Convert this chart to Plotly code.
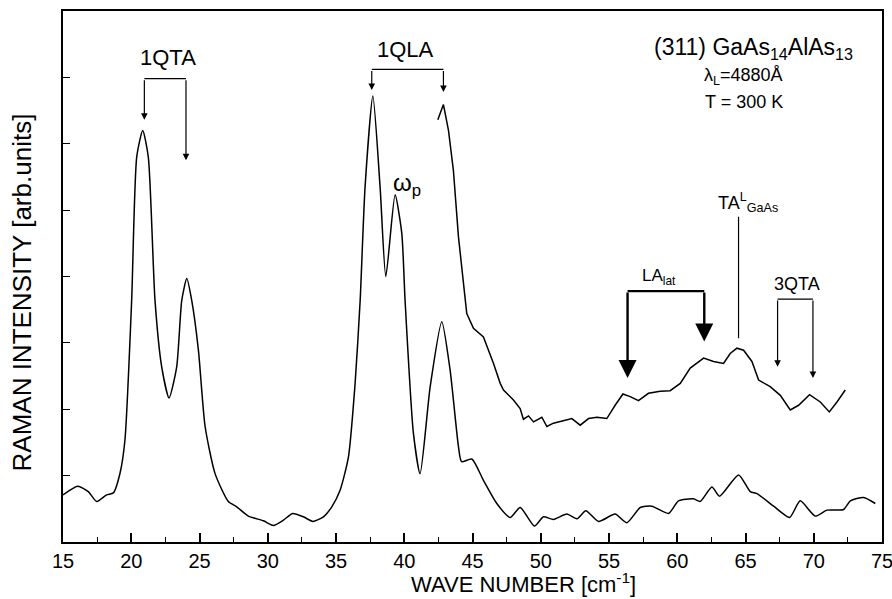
import plotly.graph_objects as go

# Lower spectrum
lower_x = [15.0, 16.08, 16.85, 17.47, 18.2, 18.69, 19.18, 19.54, 20.03, 20.4, 20.84, 21.25, 21.74,
           22.23, 22.77, 23.33, 23.7, 24.07, 24.43, 24.92, 25.41, 26.14, 27.11, 27.73, 28.58, 29.68,
           30.41, 31.15, 31.83, 32.61, 33.3, 34.08, 34.69, 35.3, 35.91, 36.4, 36.77, 37.13, 37.7,
           38.23, 38.65, 39.33, 39.82, 40.06, 40.67, 41.16, 41.9, 42.75, 43.36, 43.97, 44.2, 44.95,
           45.8, 46.78, 47.76, 48.49, 49.54, 50.2, 50.93, 51.91, 52.65, 53.3, 54.23, 55.45, 56.31,
           57.29, 58.14, 59.36, 60.09, 61.19, 61.68, 62.54, 63.1, 64.49, 65.35, 65.84, 67.06, 68.23,
           69.01, 70.11, 70.97, 72.19, 72.68, 73.65, 74.51]
lower_y = [0.71, 0.84, 0.76, 0.61, 0.71, 0.74, 1.04, 1.54, 3.64, 5.8, 6.2, 5.8, 3.64,
           2.64, 2.17, 2.64, 3.64, 3.97, 3.64, 2.89, 1.74, 1.03, 0.61, 0.53, 0.39, 0.32,
           0.25, 0.33, 0.43, 0.38, 0.31, 0.38, 0.53, 0.78, 1.28, 2.39, 3.64, 5.35, 6.72,
           5.35, 4.0, 5.23, 4.65, 3.64, 1.64, 1.03, 2.34, 3.32, 2.59, 1.44, 1.21, 1.25,
           0.93, 0.58, 0.37, 0.52, 0.24, 0.38, 0.34, 0.42, 0.35, 0.47, 0.31, 0.42, 0.29,
           0.52, 0.54, 0.43, 0.62, 0.65, 0.61, 0.83, 0.69, 1.01, 0.76, 0.73, 0.54, 0.37,
           0.62, 0.39, 0.48, 0.49, 0.62, 0.67, 0.58]

# Upper spectrum
upper_x = [42.46, 42.87, 43.24, 43.6, 43.97, 44.34, 44.58, 45.07, 45.8, 46.54, 47.03, 47.27, 48.0,
           48.49, 48.73, 49.1, 49.47, 50.08, 50.45, 50.93, 51.67, 52.28, 52.89, 53.5, 54.11, 54.84,
           55.45, 56.02, 56.55, 57.16, 57.89, 58.75, 59.48, 60.22, 60.95, 61.56, 61.93, 62.66,
           63.39, 63.88, 64.37, 64.86, 65.47, 65.96, 66.81, 67.55, 68.28, 68.89, 69.69, 70.48,
           71.14, 71.7, 72.31]
upper_y = [6.36, 6.59, 6.2, 5.6, 4.6, 3.85, 3.44, 3.22, 3.09, 2.69, 2.39, 2.29, 2.14,
           2.01, 1.85, 1.9, 1.81, 1.88, 1.74, 1.79, 1.83, 1.86, 1.76, 1.86, 1.88, 1.86,
           2.06, 2.23, 2.19, 2.13, 2.24, 2.27, 2.28, 2.39, 2.62, 2.72, 2.77, 2.72,
           2.69, 2.84, 2.92, 2.89, 2.72, 2.44, 2.34, 2.21, 1.99, 2.06, 2.22, 2.11,
           1.96, 2.11, 2.29]

x_ticks = [15, 20, 25, 30, 35, 40, 45, 50, 55, 60, 65, 70, 75]

FONT = "Liberation Sans, Arial, sans-serif"

fig = go.Figure()
fig.add_trace(go.Scatter(x=lower_x, y=lower_y, mode="lines",
                         line=dict(color="black", width=1.5, shape="spline", smoothing=0.6),
                         showlegend=False, hoverinfo="skip"))
fig.add_trace(go.Scatter(x=upper_x, y=upper_y, mode="lines",
                         line=dict(color="black", width=1.5),
                         showlegend=False, hoverinfo="skip"))

# Brackets: (x_left, x_right, bracket_y, tip_left, tip_right, arrow style)
brackets = [
    (20.96, 24.01, 6.98, 6.36, 5.75, "thin"),
    (37.62, 42.87, 7.12, 6.81, 6.78, "thin"),
    (56.36, 61.98, 3.78, 2.47, 3.02, "thick"),
    (67.35, 69.94, 3.66, 2.64, 2.47, "thin"),
]
for xl, xr, by, tl, tr, style in brackets:
    w = 2.4 if style == "thick" else 1.2
    fig.add_shape(type="line", x0=xl, x1=xr, y0=by, y1=by, xref="x", yref="y",
                  line=dict(color="black", width=w))
    for xx, tip in ((xl, tl), (xr, tr)):
        fig.add_annotation(x=xx, y=tip, ax=xx, ay=by, xref="x", yref="y", axref="x", ayref="y",
                           text="", showarrow=True, arrowhead=2,
                           arrowsize=(1.5 if style == "thick" else 1.1),
                           arrowwidth=w, arrowcolor="black")

# TA line
fig.add_shape(type="line", x0=64.49, x1=64.49, y0=4.9, y1=3.07, xref="x", yref="y",
              line=dict(color="black", width=1.2))

labels = [
    (22.66, 7.30, "1QTA", 22),
    (40.06, 7.42, "1QLA", 22),
    (40.2, 5.38, "ω<sub>p</sub>", 24),
    (58.68, 4.0, "LA<sub>lat</sub>", 17),
    (68.77, 3.89, "3QTA", 18),
    (65.16, 5.12, "TA<sup>L</sup><sub>GaAs</sub>", 18),
    (65.6, 7.43, "(311) GaAs<sub>14</sub>AlAs<sub>13</sub>", 23),
    (64.83, 7.02, "λ<sub>L</sub>=4880Å", 18),
    (64.86, 6.63, "T = 300 K", 18),
]
for lx, ly, txt, fs in labels:
    fig.add_annotation(x=lx, y=ly, text=txt, showarrow=False, xref="x", yref="y",
                       xanchor="center", yanchor="middle",
                       font=dict(family=FONT, size=fs, color="black"))

# Axis titles
fig.add_annotation(x=0.5617, y=-0.078, xref="paper", yref="paper", showarrow=False,
                   text="WAVE NUMBER [cm<sup>-1</sup>]", xanchor="center", yanchor="middle",
                   font=dict(family=FONT, size=22, color="black"))
fig.add_annotation(x=-0.05, y=0.47, xref="paper", yref="paper", showarrow=False,
                   text="RAMAN INTENSITY [arb.units]", textangle=-90,
                   xanchor="center", yanchor="middle",
                   font=dict(family=FONT, size=26, color="black"))

fig.update_layout(
    width=892, height=599,
    margin=dict(l=63, r=10, t=11, b=57),
    paper_bgcolor="white", plot_bgcolor="white",
    font=dict(family=FONT, size=20, color="black"),
    xaxis=dict(range=[15, 75], tickvals=x_ticks, ticks="inside", ticklen=9, tickwidth=1.5,
               tickcolor="black", showline=True, linecolor="black", linewidth=2, mirror=True,
               showgrid=False, zeroline=False, automargin=False, ticklabeloverflow="allow",
               minor=dict(ticks="inside", dtick=2.5, ticklen=5, tickcolor="black", tickwidth=1.2),
               tickfont=dict(size=20)),
    yaxis=dict(range=[0, 8], dtick=1, tick0=0, ticks="inside", ticklen=7, tickwidth=1.2,
               tickcolor="black", showticklabels=False, showline=True, linecolor="black",
               linewidth=2, mirror=True, showgrid=False, zeroline=False, automargin=False),
)

fig.write_html("out.html", config={"displayModeBar": False},
               post_script="document.body.style.margin='0';document.body.style.overflow='hidden';")
